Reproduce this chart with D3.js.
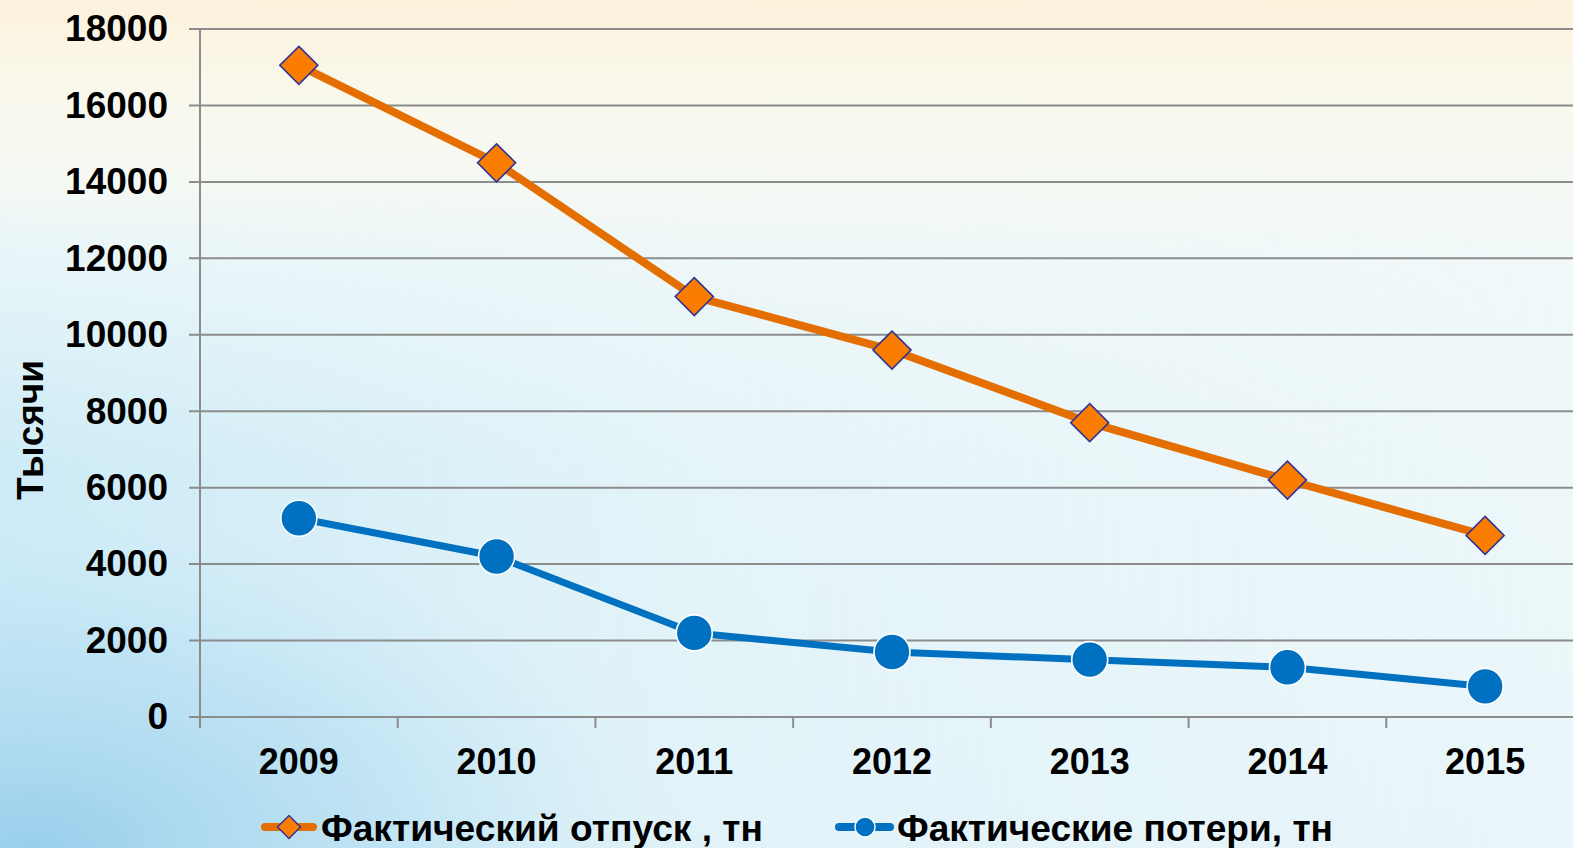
<!DOCTYPE html>
<html>
<head>
<meta charset="utf-8">
<script src="https://d3js.org/d3.v7.min.js"></script>
<style>
  body { margin: 0; overflow: hidden; }
  svg { display: block; font-family: "Liberation Sans", Arial, sans-serif; font-weight: bold; }
</style>
</head>
<body>
<script>
// chart data
var years = ["2009", "2010", "2011", "2012", "2013", "2014", "2015"];
var otpusk = [17050, 14500, 11000, 9600, 7700, 6200, 4750];
var poteri = [5200, 4200, 2200, 1700, 1500, 1300, 800];
var yTicks = [0, 2000, 4000, 6000, 8000, 10000, 12000, 14000, 16000, 18000];
var seriesNames = ["Фактический отпуск , тн", "Фактические потери, тн"];
var yTitle = "Тысячи";

var width = 1573, height = 848;

var svg = d3.select("body").append("svg")
    .attr("width", width)
    .attr("height", height);

// background: cream top, pale blue body, bluer towards bottom-left
var defs = svg.append("defs");
var bg = defs.append("linearGradient").attr("id", "bg")
    .attr("x1", 0).attr("y1", 0).attr("x2", 0).attr("y2", 1);
bg.append("stop").attr("offset", "0%").attr("stop-color", "#fcf2dc");
bg.append("stop").attr("offset", "10%").attr("stop-color", "#faf8ec");
bg.append("stop").attr("offset", "30%").attr("stop-color", "#f1f9f9");
bg.append("stop").attr("offset", "100%").attr("stop-color", "#e9f6fa");

var side = defs.append("linearGradient").attr("id", "side")
    .attr("x1", 0).attr("y1", 0).attr("x2", 1).attr("y2", 0);
side.append("stop").attr("offset", "0%").attr("stop-color", "#c9e9f6").attr("stop-opacity", 0.9);
side.append("stop").attr("offset", "45%").attr("stop-color", "#c9e9f6").attr("stop-opacity", 0.25);
side.append("stop").attr("offset", "100%").attr("stop-color", "#c9e9f6").attr("stop-opacity", 0);

var sideMask = defs.append("linearGradient").attr("id", "sideMask")
    .attr("x1", 0).attr("y1", 0).attr("x2", 0).attr("y2", 1);
sideMask.append("stop").attr("offset", "0%").attr("stop-color", "#fff").attr("stop-opacity", 0);
sideMask.append("stop").attr("offset", "22%").attr("stop-color", "#fff").attr("stop-opacity", 0);
sideMask.append("stop").attr("offset", "55%").attr("stop-color", "#fff").attr("stop-opacity", 1);
sideMask.append("stop").attr("offset", "100%").attr("stop-color", "#fff").attr("stop-opacity", 1);
defs.append("mask").attr("id", "fadeTop")
    .append("rect").attr("width", width).attr("height", height).attr("fill", "url(#sideMask)");

var swoosh = defs.append("radialGradient").attr("id", "swoosh")
    .attr("cx", 0.02).attr("cy", 1).attr("r", 0.4);
swoosh.append("stop").attr("offset", "0%").attr("stop-color", "#99cfeb").attr("stop-opacity", 1);
swoosh.append("stop").attr("offset", "60%").attr("stop-color", "#b5def2").attr("stop-opacity", 0.6);
swoosh.append("stop").attr("offset", "100%").attr("stop-color", "#c9e9f6").attr("stop-opacity", 0);

svg.append("rect").attr("width", width).attr("height", height).attr("fill", "url(#bg)");
svg.append("rect").attr("width", width).attr("height", height)
    .attr("fill", "url(#side)").attr("mask", "url(#fadeTop)");
svg.append("rect").attr("width", width).attr("height", height).attr("fill", "url(#swoosh)");

// scales
var x = d3.scaleBand().domain(years).range([200, 1584]);
var y = d3.scaleLinear().domain([0, 18000]).range([717, 29]);

// gridlines
svg.append("g").selectAll("line")
    .data(yTicks)
    .enter().append("line")
    .attr("x1", 189).attr("x2", width)
    .attr("y1", function (d) { return y(d); })
    .attr("y2", function (d) { return y(d); })
    .attr("stroke", "#8c8c8c")
    .attr("stroke-width", 2);

// y axis
var yAxis = svg.append("g")
    .attr("transform", "translate(200,0)")
    .call(d3.axisLeft(y).tickValues(yTicks).tickFormat(d3.format("d")).tickSize(0).tickPadding(32));
yAxis.select(".domain").remove();
yAxis.selectAll("text")
    .attr("font-size", 37)
    .attr("font-family", "Liberation Sans, Arial, sans-serif")
    .attr("font-weight", "bold")
    .attr("fill", "#000");
svg.append("line")
    .attr("x1", 200).attr("x2", 200)
    .attr("y1", y(18000)).attr("y2", 728)
    .attr("stroke", "#8c8c8c").attr("stroke-width", 2);

// x axis
var xAxis = svg.append("g")
    .attr("transform", "translate(0,717)")
    .call(d3.axisBottom(x).tickSize(0).tickPadding(31));
xAxis.select(".domain").remove();
xAxis.selectAll("text")
    .attr("font-size", 36)
    .attr("font-family", "Liberation Sans, Arial, sans-serif")
    .attr("font-weight", "bold")
    .attr("fill", "#000");
// category separators
svg.append("g").selectAll("line")
    .data(years.slice(1))
    .enter().append("line")
    .attr("x1", function (d) { return x(d); })
    .attr("x2", function (d) { return x(d); })
    .attr("y1", 717).attr("y2", 728)
    .attr("stroke", "#8c8c8c").attr("stroke-width", 2);

var cx = function (d, i) { return x(years[i]) + x.bandwidth() / 2; };

var line = d3.line()
    .x(function (d, i) { return x(years[i]) + x.bandwidth() / 2; })
    .y(function (d) { return y(d); });

// orange series
svg.append("path").datum(otpusk)
    .attr("d", line)
    .attr("fill", "none")
    .attr("stroke", "#e46f00")
    .attr("stroke-width", 8)
    .attr("stroke-linejoin", "round");

var diamond = d3.symbol().type(d3.symbolSquare).size(19 * 19 * 2);
svg.append("g").selectAll("path")
    .data(otpusk)
    .enter().append("path")
    .attr("d", diamond)
    .attr("transform", function (d, i) { return "translate(" + cx(d, i) + "," + y(d) + ") rotate(45)"; })
    .attr("fill", "#fa7d00")
    .attr("stroke", "#2e3399")
    .attr("stroke-width", 1.6);

// blue series
svg.append("path").datum(poteri)
    .attr("d", line)
    .attr("fill", "none")
    .attr("stroke", "#0070c0")
    .attr("stroke-width", 7)
    .attr("stroke-linejoin", "round");

svg.append("g").selectAll("circle")
    .data(poteri)
    .enter().append("circle")
    .attr("cx", cx)
    .attr("cy", function (d) { return y(d); })
    .attr("r", 18)
    .attr("fill", "#0070c0")
    .attr("stroke", "#ffffff")
    .attr("stroke-width", 1.6);

// y title
svg.append("text")
    .attr("transform", "translate(43,430) rotate(-90)")
    .attr("text-anchor", "middle")
    .attr("font-size", 37)
    .attr("fill", "#000")
    .text(yTitle);

// legend
var legend = svg.append("g");
legend.append("line")
    .attr("x1", 265).attr("x2", 313).attr("y1", 827).attr("y2", 827)
    .attr("stroke", "#e46f00").attr("stroke-width", 8).attr("stroke-linecap", "round");
legend.append("path")
    .attr("d", d3.symbol().type(d3.symbolSquare).size(11.5 * 11.5 * 2))
    .attr("transform", "translate(289,827) rotate(45)")
    .attr("fill", "#fa7d00").attr("stroke", "#2e3399").attr("stroke-width", 1.4);
legend.append("text")
    .attr("x", 321).attr("y", 841)
    .attr("font-size", 36)
    .attr("textLength", 442).attr("lengthAdjust", "spacingAndGlyphs")
    .attr("fill", "#000")
    .text(seriesNames[0]);

legend.append("line")
    .attr("x1", 839).attr("x2", 890).attr("y1", 827).attr("y2", 827)
    .attr("stroke", "#0070c0").attr("stroke-width", 8).attr("stroke-linecap", "round");
legend.append("circle")
    .attr("cx", 865).attr("cy", 827).attr("r", 10)
    .attr("fill", "#0070c0").attr("stroke", "#ffffff").attr("stroke-width", 1.4);
legend.append("text")
    .attr("x", 897).attr("y", 841)
    .attr("font-size", 36)
    .attr("textLength", 436).attr("lengthAdjust", "spacingAndGlyphs")
    .attr("fill", "#000")
    .text(seriesNames[1]);
</script>
</body>
</html>
